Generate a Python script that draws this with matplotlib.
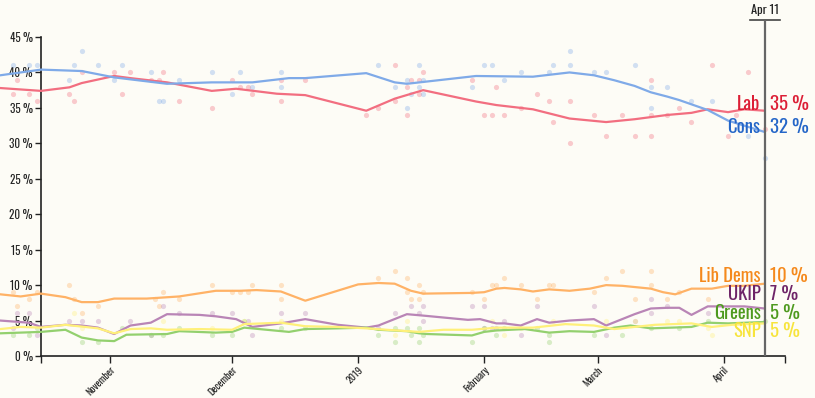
import matplotlib
matplotlib.use('Agg')
import matplotlib.pyplot as plt
from matplotlib import font_manager
import pandas as pd

# trend lines (knots)
cons_line_dates = ['2018-10-05','2018-10-15','2018-10-25','2018-11-02','2018-11-15','2018-11-26','2018-12-06',
                   '2018-12-15','2018-12-19','2019-01-03','2019-01-10','2019-01-13','2019-01-30','2019-02-13',
                   '2019-02-22','2019-02-28','2019-03-05','2019-03-10','2019-03-14','2019-03-18','2019-03-21',
                   '2019-03-28','2019-04-02','2019-04-11']
cons_line = [39.6,40.4,40.2,39.3,38.4,38.6,38.6,39.2,39.2,39.9,38.6,38.4,39.5,39.4,
             40.0,39.6,38.9,38.1,37.2,36.6,36.1,34.7,33.2,31.6]

lab_line_dates = ['2018-10-05','2018-10-15','2018-10-22','2018-10-25','2018-11-02','2018-11-06','2018-11-15',
                  '2018-11-26','2018-12-02','2018-12-12','2018-12-19','2019-01-03','2019-01-10','2019-01-17',
                  '2019-01-30','2019-02-04','2019-02-13','2019-02-22','2019-03-03','2019-03-10','2019-03-18',
                  '2019-03-24','2019-03-28','2019-04-02','2019-04-06','2019-04-11']
lab_line = [37.8,37.4,37.9,38.5,39.5,39.2,38.6,37.4,37.7,37.0,36.8,34.6,36.3,37.5,
            35.9,35.4,34.8,33.5,33.0,33.4,34.0,34.3,34.8,34.4,34.8,34.6]

ld_line_dates = ['2018-10-05','2018-10-10','2018-10-15','2018-10-21','2018-10-25','2018-10-29','2018-11-02',
                 '2018-11-10','2018-11-18','2018-11-27','2018-12-03','2018-12-07','2018-12-13','2018-12-19',
                 '2019-01-01','2019-01-06','2019-01-10','2019-01-14','2019-01-17','2019-01-29','2019-02-01',
                 '2019-02-04','2019-02-06','2019-02-10','2019-02-13','2019-02-17','2019-02-22','2019-02-27',
                 '2019-03-03','2019-03-07','2019-03-14','2019-03-17','2019-03-20','2019-03-24','2019-03-29',
                 '2019-04-02','2019-04-06','2019-04-11']
ld_line = [8.7,8.4,8.8,8.3,7.6,7.6,8.1,8.1,8.4,9.2,9.2,9.3,9.1,7.8,10.1,10.3,10.2,9.2,8.8,8.9,9.0,
           9.5,9.6,9.4,9.1,9.4,9.2,9.5,10.0,9.9,9.5,9.0,8.7,9.5,9.5,9.9,9.9,10.2]

ukip_line_dates = ['2018-10-05','2018-10-12','2018-10-15','2018-10-21','2018-10-25','2018-10-29','2018-11-02',
                   '2018-11-06','2018-11-11','2018-11-15','2018-11-23','2018-11-27','2018-12-02','2018-12-06',
                   '2018-12-13','2018-12-19','2018-12-27','2019-01-03','2019-01-06','2019-01-13','2019-01-17',
                   '2019-01-28','2019-01-31','2019-02-04','2019-02-06','2019-02-10','2019-02-14','2019-02-17',
                   '2019-02-22','2019-02-28','2019-03-03','2019-03-10','2019-03-14','2019-03-18','2019-03-21',
                   '2019-03-24','2019-03-28','2019-04-02','2019-04-06','2019-04-11']
ukip_line = [5.0,4.7,4.1,4.4,4.3,4.0,3.1,4.3,4.7,5.9,5.8,5.6,5.2,4.1,4.6,5.2,4.4,4.0,4.3,5.9,5.7,
             5.1,5.2,4.6,4.6,4.3,5.2,4.7,5.0,5.2,4.3,5.9,6.7,6.8,6.8,5.8,7.0,7.0,7.0,6.7]

green_line_dates = ['2018-10-05','2018-10-15','2018-10-21','2018-10-25','2018-10-29','2018-11-02','2018-11-05',
                    '2018-11-15','2018-11-18','2018-11-27','2018-12-01','2018-12-04','2018-12-15','2018-12-19',
                    '2018-12-27','2019-01-03','2019-01-06','2019-01-13','2019-01-16','2019-01-18','2019-01-29',
                    '2019-02-01','2019-02-04','2019-02-11','2019-02-17','2019-02-22','2019-02-28','2019-03-05',
                    '2019-03-09','2019-03-14','2019-03-19','2019-03-24','2019-03-28','2019-04-02','2019-04-11']
green_line = [3.2,3.4,3.7,2.6,2.2,2.1,3.0,3.1,3.5,3.3,3.4,4.0,3.4,3.8,3.9,4.0,3.7,3.5,3.2,3.1,2.9,
              3.4,3.6,3.8,3.3,3.5,3.4,4.0,4.3,3.9,4.0,4.1,4.7,4.6,4.8]

snp_line_dates = ['2018-10-05','2018-10-10','2018-10-15','2018-10-21','2018-10-29','2018-11-02','2018-11-06',
                  '2018-11-11','2018-11-15','2018-11-23','2018-12-01','2018-12-04','2018-12-13','2018-12-19',
                  '2018-12-27','2019-01-03','2019-01-08','2019-01-16','2019-01-22','2019-01-29','2019-02-04',
                  '2019-02-13','2019-02-21','2019-02-28','2019-03-05','2019-03-15','2019-03-24','2019-03-29',
                  '2019-04-03','2019-04-11']
snp_line = [3.8,4.1,4.0,4.4,3.9,3.2,3.8,3.9,3.7,3.8,3.7,4.5,4.7,4.2,4.1,3.9,3.7,3.4,3.7,3.7,4.0,
            4.0,4.5,4.3,3.8,4.4,4.6,4.1,4.4,4.6]

# individual polls
cons_poll_dates = ['2018-10-08','2018-10-12','2018-10-14','2018-10-22','2018-10-23','2018-10-25','2018-10-29',
                   '2018-11-02','2018-11-04','2018-11-11','2018-11-13','2018-11-14','2018-11-18','2018-11-26',
                   '2018-12-01','2018-12-03','2018-12-06','2018-12-13','2018-12-13','2019-01-06','2019-01-10',
                   '2019-01-13','2019-01-13','2019-01-14','2019-01-16','2019-01-16','2019-01-17','2019-01-17',
                   '2019-01-29','2019-02-01','2019-02-03','2019-02-06','2019-02-10','2019-02-17','2019-02-18',
                   '2019-02-22','2019-02-22','2019-02-28','2019-03-03','2019-03-10','2019-03-14','2019-03-14',
                   '2019-03-18','2019-03-24','2019-03-29','2019-04-07','2019-04-11']
cons_polls = [41,41,41,39,41,43,41,39,41,40,36,36,39,40,37,40,38,40,38,41,38,39,35,37,41,38,39,37,
              38,41,41,39,40,40,41,43,41,40,40,41,38,35,38,36,36,31,28]

lab_poll_dates = ['2018-10-08','2018-10-09','2018-10-12','2018-10-14','2018-10-22','2018-10-23','2018-10-25',
                  '2018-11-02','2018-11-04','2018-11-06','2018-11-11','2018-11-13','2018-11-14','2018-11-18',
                  '2018-11-26','2018-12-01','2018-12-03','2018-12-05','2018-12-06','2018-12-13','2018-12-13',
                  '2018-12-19','2019-01-03','2019-01-06','2019-01-10','2019-01-10','2019-01-13','2019-01-13',
                  '2019-01-14','2019-01-16','2019-01-16','2019-01-17','2019-01-29','2019-02-01','2019-02-03',
                  '2019-02-04','2019-02-06','2019-02-10','2019-02-14','2019-02-17','2019-02-18','2019-02-22',
                  '2019-02-22','2019-02-28','2019-03-03','2019-03-07','2019-03-10','2019-03-14','2019-03-14',
                  '2019-03-14','2019-03-18','2019-03-21','2019-03-24','2019-03-29','2019-04-02','2019-04-04',
                  '2019-04-07','2019-04-11']
lab_polls = [37,39,37,36,37,36,40,40,37,40,39,39,40,36,35,39,38,38,37,39,36,39,34,35,41,36,38,34,
             39,39,37,40,39,34,34,38,34,35,37,36,33,36,30,34,31,34,31,39,31,34,34,35,33,41,31,34,40,32]

ld_poll_dates = ['2018-10-08','2018-10-09','2018-10-12','2018-10-14','2018-10-22','2018-10-23','2018-10-25',
                 '2018-10-29','2018-11-12','2018-11-13','2018-11-14','2018-11-18','2018-11-26','2018-12-01',
                 '2018-12-03','2018-12-05','2018-12-06','2018-12-13','2018-12-13','2019-01-06','2019-01-10',
                 '2019-01-13','2019-01-13','2019-01-14','2019-01-16','2019-01-16','2019-01-17','2019-01-29',
                 '2019-02-01','2019-02-03','2019-02-04','2019-02-06','2019-02-10','2019-02-14','2019-02-17',
                 '2019-02-18','2019-02-28','2019-03-03','2019-03-07','2019-03-10','2019-03-14','2019-03-14',
                 '2019-03-18','2019-03-21','2019-03-28']
ld_polls = [9,7,8,9,10,8,6,7,8,7,9,8,10,9,9,9,10,10,8,11,12,11,9,8,10,8,9,9,8,10,10,11,10,8,10,
            10,9,11,12,8,12,10,8,9,8]

ukip_poll_dates = ['2018-10-08','2018-10-09','2018-10-12','2018-10-14','2018-10-22','2018-10-25','2018-10-29',
                   '2018-11-06','2018-11-11','2018-11-14','2018-11-18','2018-11-26','2018-12-01','2018-12-05',
                   '2018-12-06','2018-12-13','2018-12-19','2019-01-06','2019-01-10','2019-01-14','2019-01-16',
                   '2019-01-17','2019-01-17','2019-01-29','2019-02-01','2019-02-01','2019-02-03','2019-02-04',
                   '2019-02-06','2019-02-10','2019-02-14','2019-02-28','2019-03-03','2019-03-10','2019-03-14',
                   '2019-03-14','2019-03-18','2019-03-28']
ukip_polls = [4,6,6,3,5,5,5,5,3,7,6,6,6,5,3,6,6,4,6,7,6,7,5,7,7,4,4,4,5,3,7,7,3,5,8,6,7,6]

green_poll_dates = ['2018-10-08','2018-10-12','2018-10-14','2018-10-25','2018-10-29','2018-11-04','2018-11-11',
                    '2018-11-14','2018-11-18','2018-11-26','2018-12-01','2018-12-04','2018-12-13','2018-12-19',
                    '2019-01-06','2019-01-10','2019-01-10','2019-01-13','2019-01-14','2019-01-16','2019-01-16',
                    '2019-01-17','2019-01-29','2019-02-01','2019-02-04','2019-02-06','2019-02-14','2019-02-17',
                    '2019-02-17','2019-02-28','2019-03-07','2019-03-14','2019-03-21','2019-03-28','2019-04-11']
green_polls = [3,3,4,2,2,4,3,3,4,3,3,5,4,4,3,4,2,4,3,4,2,3,2,4,3,4,4,2,3,3,3,4,4,5,5]

snp_poll_dates = ['2018-10-23','2018-10-25','2018-11-14','2018-11-26','2018-12-04','2018-12-13','2019-01-10',
                  '2019-01-13','2019-02-03','2019-02-06','2019-02-10','2019-02-18','2019-03-03','2019-03-10',
                  '2019-03-18','2019-03-21','2019-03-28','2019-03-29']
snp_polls = [6,4,5,4,5,5,3,5,5,3,4,5,5,5,5,5,4,3]

party_names = ['Lab', 'Cons', 'Lib Dems', 'UKIP', 'Greens', 'SNP']
latest = [35, 32, 10, 7, 5, 5]
y_ticks = [0, 5, 10, 15, 20, 25, 30, 35, 40, 45]
month_ticks = ['2018-11-01', '2018-12-01', '2019-01-01', '2019-02-01', '2019-03-01', '2019-04-01']
month_labels = ['November', 'December', '2019', 'February', 'March', 'April']
today = '2019-04-11'

# pick a condensed font if there is one
installed = {f.name for f in font_manager.fontManager.ttflist}
font = 'DejaVu Sans'
for cand in ['Oswald', 'Roboto Condensed', 'Liberation Sans Narrow', 'Open Sans Condensed']:
    if cand in installed:
        font = cand
        break
plt.rcParams['font.family'] = [font, 'DejaVu Sans']

bg = '#fdfcf6'
parties = [
    (lab_line_dates, lab_line, lab_poll_dates, lab_polls, '#f26e80', '#dc1f36'),
    (cons_line_dates, cons_line, cons_poll_dates, cons_polls, '#7faae8', '#2566c8'),
    (ld_line_dates, ld_line, ld_poll_dates, ld_polls, '#ffb266', '#f5891c'),
    (ukip_line_dates, ukip_line, ukip_poll_dates, ukip_polls, '#b985b6', '#6e2468'),
    (green_line_dates, green_line, green_poll_dates, green_polls, '#93d06e', '#4e9a1f'),
    (snp_line_dates, snp_line, snp_poll_dates, snp_polls, '#fff07a', '#f7e43c'),
]
label_y = [35.5, 32.3, 11.3, 8.7, 6.1, 3.5]

fig = plt.figure(figsize=(8.15, 3.98), dpi=100, facecolor=bg)
ax = fig.add_axes([41/815, 42/398, 744/815, 319/398])
ax.set_facecolor(bg)

start = pd.Timestamp('2018-10-15')
end = pd.Timestamp('2019-04-16')
ax.set_xlim(start, end)
ax.set_ylim(0, 45)

# polls first, trend lines on top
for ld, lv, pd_, pv, lc, tc in parties:
    ax.scatter(pd.to_datetime(pd_), pv, s=14, color=lc, alpha=0.35, lw=0, clip_on=False, zorder=2)
for ld, lv, pd_, pv, lc, tc in parties:
    ax.plot(pd.to_datetime(ld), lv, color=lc, lw=1.6, clip_on=False, zorder=3,
            solid_joinstyle='round')

# today marker
t = pd.Timestamp(today)
ax.vlines(t, 0, 1.053, transform=ax.get_xaxis_transform(), color='#666666', lw=1.6,
          clip_on=False, zorder=4)
ax.plot([t - pd.Timedelta(days=3.7), t + pd.Timedelta(days=3.7)], [1.053, 1.053],
        transform=ax.get_xaxis_transform(), color='#444444', lw=1.2, clip_on=False)
ax.text(t, 1.065, 'Apr 11', transform=ax.get_xaxis_transform(), ha='center', va='bottom',
        fontsize=9, color='#222222')

for i, name in enumerate(party_names):
    tc = parties[i][5]
    ax.annotate(name, (t, label_y[i]), xytext=(-3, 0), textcoords='offset points',
                ha='right', va='center', fontsize=13.5, fontweight='bold', color=tc, zorder=5)
    ax.annotate(f'{latest[i]} %', (t, label_y[i]), xytext=(3.5, 0), textcoords='offset points',
                ha='left', va='center', fontsize=13.5, fontweight='bold', color=tc, zorder=5)

# axes styling
for s in ['top', 'right']:
    ax.spines[s].set_visible(False)
ax.spines['left'].set_color('#222222')
ax.spines['bottom'].set_color('#222222')
ax.spines['left'].set_linewidth(1.2)
ax.spines['bottom'].set_linewidth(1.2)

ax.set_yticks(y_ticks)
ax.set_yticklabels([f'{v} %' for v in y_ticks])
ax.tick_params(axis='y', length=4, width=1, colors='#222222', labelsize=8, pad=2)

xt = [start] + list(pd.to_datetime(month_ticks)) + [end]
ax.set_xticks(xt)
ax.set_xticklabels([''] + month_labels + [''], rotation=45, ha='right', rotation_mode='anchor')
ax.tick_params(axis='x', length=5, width=1, colors='#222222', labelsize=7.2, pad=1.5)

plt.savefig('out.png', dpi=100, facecolor=bg)
